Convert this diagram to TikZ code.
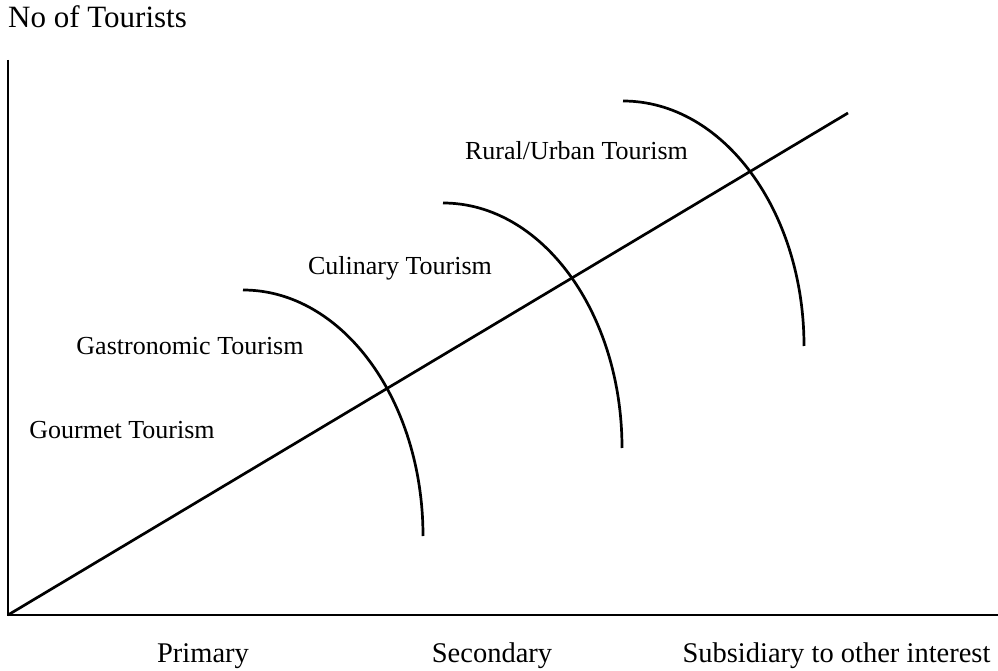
\documentclass[tikz,border=0pt]{standalone}
\usepackage{fontspec}
\setmainfont{Liberation Serif}
\begin{document}
\begin{tikzpicture}[x=1pt,y=1pt,
  stroke/.style={line width=2.7pt,black},
  lbl/.style={inner sep=0pt,anchor=base,font=\fontsize{26}{30}\selectfont},
  axlbl/.style={inner sep=0pt,anchor=base,font=\fontsize{28.5}{32}\selectfont},
  ttl/.style={inner sep=0pt,anchor=base west,font=\fontsize{31}{36}\selectfont}]
\useasboundingbox (0,0) rectangle (998,670);
% axes and diagonal
\coordinate (O) at (8,55);
\coordinate (ytop) at (8,610);
\coordinate (xend) at (998,55);
\coordinate (dend) at (848,557);
\draw[stroke] (ytop) -- (O) -- (xend);
\draw[stroke] (O) -- (dend);
% arcs
\coordinate (a1) at (243,380);
\coordinate (a2) at (443,467);
\coordinate (a3) at (623,569);
\draw[stroke] (a1) arc[start angle=90,end angle=0,x radius=180,y radius=246];
\draw[stroke] (a2) arc[start angle=90,end angle=0,x radius=179,y radius=245];
\draw[stroke] (a3) arc[start angle=90,end angle=0,x radius=181,y radius=245];
% labels
\node[ttl] (title) at (8,642) {No of Tourists};
\node[lbl] (rural) at (576.5,510) {Rural/Urban Tourism};
\node[lbl] (culinary) at (400,395) {Culinary Tourism};
\node[lbl] (gastro) at (190,316) {Gastronomic Tourism};
\node[lbl] (gourmet) at (122,232) {Gourmet Tourism};
\node[axlbl] (primary) at (203,8) {Primary};
\node[axlbl] (secondary) at (492,8) {Secondary};
\node[axlbl] (subsid) at (836.5,8) {Subsidiary to other interest};
\end{tikzpicture}
\end{document}
